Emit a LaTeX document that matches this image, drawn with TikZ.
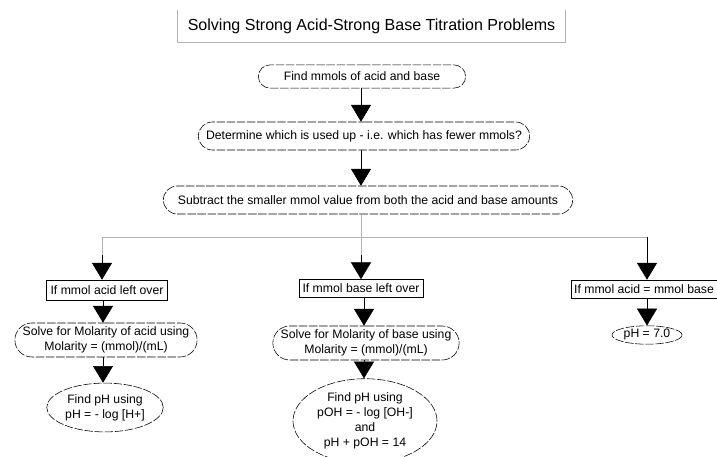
\documentclass[tikz,border=0pt]{standalone}
\usepackage{fontspec}
\setmainfont{Liberation Sans}
\usetikzlibrary{arrows.meta,shapes.geometric,shapes.misc}

\begin{document}
\begin{tikzpicture}[x=0.025cm, y=-0.025cm,
  every node/.style={font=\fontsize{8.7}{10.8}\selectfont, inner sep=1pt, align=center},
  stage/.style={draw, thin, rounded rectangle, dash pattern=on 6pt off 1.2pt},
  result/.style={draw, thin, ellipse, dash pattern=on 6pt off 1.2pt},
  case/.style={draw, thin, rectangle, inner xsep=2pt},
  flow/.style={thin, -{Triangle[width=0.5cm, length=0.42cm]}},
  branch/.style={gray!60, thin}]
  \useasboundingbox (0,0) rectangle (717,457);

  % title (open at the top)
  \node[minimum width=9.68cm, minimum height=0.8cm,
        font=\fontsize{11.4}{13}\selectfont] (title) at (371.5,26) {Solving Strong Acid-Strong Base Titration Problems};
  \draw[gray!60] (title.north west) -- (title.south west) -- (title.south east) -- (title.north east);

  % main sequence
  \node[stage, minimum width=5.25cm, minimum height=0.58cm] (mmols) at (362,76.5) {Find mmols of acid and base};
  \node[stage, minimum width=8.35cm, minimum height=0.7cm] (usedup) at (364,136) {Determine which is used up - i.e. which has fewer mmols?};
  \node[stage, minimum width=10.3cm, minimum height=0.7cm] (subtract) at (368,200) {Subtract the smaller mmol value from both the acid and base amounts};
  \draw[flow] (mmols.south -| 361,0) -- (usedup.north -| 361,0);
  \draw[flow] (usedup.south -| 361,0) -- (subtract.north -| 361,0);

  % split into three cases
  \coordinate (split) at (361,237);
  \coordinate (splitL) at (102,237);
  \coordinate (splitR) at (647,237);
  \draw[branch] (subtract.south -| split) -- (split);
  \draw[branch] (splitL) -- (splitR);

  % acid left over
  \node[case, minimum width=3.03cm, minimum height=0.5cm] (acidleft) at (107,290) {If mmol acid left over};
  \node[stage, minimum width=4.3cm, minimum height=0.85cm] (acidM) at (106,340) {Solve for Molarity of acid using\\Molarity = (mmol)/(mL)};
  \node[result, minimum width=2.9cm, minimum height=1.22cm] (acidpH) at (105,407.5) {Find pH using\\pH = - log [H+]};
  \draw[branch] (splitL) -- (102,256);
  \draw[flow] (102,255) -- (acidleft.north -| 102,0);
  \draw[flow] (acidleft.south -| 103,0) -- (acidM.north -| 103,0);
  \draw[flow] (acidM.south -| 103,0) -- (acidpH.north -| 103,0);

  % base left over
  \node[case, minimum width=3.1cm, minimum height=0.45cm] (baseleft) at (361,288.5) {If mmol base left over};
  \node[stage, minimum width=4.62cm, minimum height=0.85cm] (baseM) at (366,343) {Solve for Molarity of base using\\Molarity = (mmol)/(mL)};
  \node[result, minimum width=3.6cm, minimum height=1.92cm] (basepH) at (365,421) {Find pH using\\pOH = - log [OH-]\\and\\pH + pOH = 14};
  \draw[branch] (split) -- (361,256);
  \draw[flow] (361,255) -- (baseleft.north -| 361,0);
  \draw[flow] (baseleft.south -| 364,0) -- (baseM.north -| 364,0);
  \draw[flow] (baseM.south -| 364,0) -- (basepH.north -| 364,0);

  % equal amounts
  \node[case, minimum width=3.65cm, minimum height=0.45cm] (equal) at (644,289) {If mmol acid = mmol base};
  \node[result, minimum width=1.75cm, minimum height=0.46cm, inner sep=0pt] (neutral) at (647,335) {pH = 7.0};
  \draw[flow] (splitR) -- (equal.north -| splitR);
  \draw[flow] (equal.south -| splitR) -- (neutral.north -| splitR);
\end{tikzpicture}
\end{document}
